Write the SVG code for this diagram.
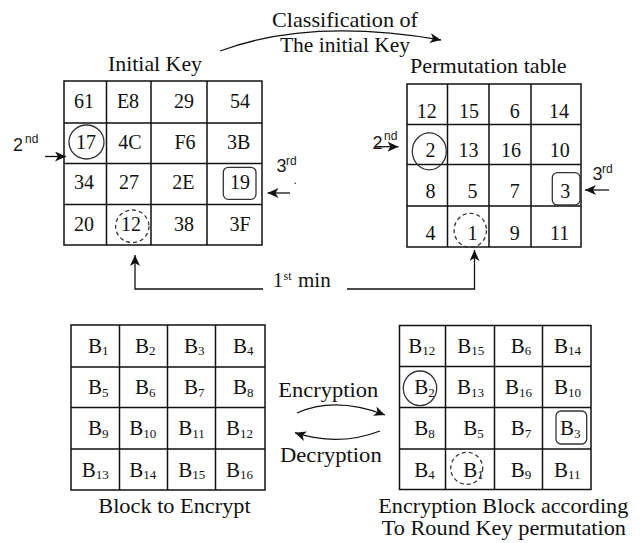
<svg xmlns="http://www.w3.org/2000/svg" width="642" height="543" viewBox="0 0 642 543">
  <style>
    text { font-family: "Liberation Serif", "Times New Roman", serif; fill: #111; }
    .lbl { font-size: 21px; }
    .num { font-size: 20px; text-anchor: middle; }
    .blk { font-size: 21px; }
    .sub { font-size: 13px; }
    .ssup { font-size: 12px; }
    .ord { font-family: "Liberation Sans", Arial, sans-serif; font-size: 18px; fill: #1a1a1a; }
    .sup { font-family: "Liberation Sans", Arial, sans-serif; font-size: 12px; fill: #1a1a1a; }
    .grid { fill: none; stroke: #111; stroke-width: 1.5; }
    .mark { fill: none; stroke: #333; stroke-width: 1.3; }
    .dash { stroke-dasharray: 4 3; }
    .conn { fill: none; stroke: #111; stroke-width: 1.3; marker-end: url(#arrow); }
  </style>
  <defs>
    <marker id="arrow" markerUnits="userSpaceOnUse" markerWidth="11" markerHeight="10" viewBox="0 0 11 10" refX="11" refY="5" orient="auto">
      <path d="M0,0 L11,5 L0,10 L3,5 z" fill="#111"/>
    </marker>
  </defs>
  <rect width="642" height="543" fill="#fff"/>

  <!-- connectors -->
  <g id="connectors">
    <path class="conn" d="M220,51 Q310,17.5 441,40"/>
    <path class="conn" d="M263,289 H135 V255"/>
    <path class="conn" d="M347,289 H474.5 V250"/>
    <path class="conn" d="M45,156.5 H66"/>
    <path class="conn" d="M290,193 H267.5"/>
    <path class="conn" d="M375,146.7 H398.5"/>
    <path class="conn" d="M609,190 H585"/>
    <path class="conn" d="M297,413 Q335,396 385,415"/>
    <path class="conn" d="M380,431 Q338,447 295,432.7"/>
  </g>

  <!-- labels on connectors -->
  <g id="classification-label">
    <text class="lbl" x="272" y="26.5" textLength="146" lengthAdjust="spacingAndGlyphs">Classification of</text>
    <text class="lbl" x="280" y="51.5" textLength="130" lengthAdjust="spacingAndGlyphs">The initial Key</text>
  </g>
  <g id="first-min-label">
    <text class="num" x="278" y="287">1</text>
    <text class="ssup" x="283.5" y="279.5">st</text>
    <text class="lbl" x="298" y="287">min</text>
  </g>
  <g id="ordinal-labels">
    <text class="ord" x="13" y="151">2</text><text class="sup" x="25" y="143">nd</text>
    <text class="ord" x="276.5" y="172">3</text><text class="sup" x="286" y="165">rd</text>
    <text class="sup" x="293.5" y="184">.</text>
    <text class="ord" x="372.5" y="148.5">2</text><text class="sup" x="384" y="140">nd</text>
    <text class="ord" x="592.5" y="180">3</text><text class="sup" x="602" y="173.3">rd</text>
  </g>
  <g id="crypt-labels">
    <text class="lbl" x="278.3" y="396.7" textLength="100" lengthAdjust="spacingAndGlyphs">Encryption</text>
    <text class="lbl" x="280" y="461.7" textLength="101.7" lengthAdjust="spacingAndGlyphs">Decryption</text>
  </g>

  <!-- Initial key table -->
  <g id="initial-key">
    <text class="lbl" x="108" y="70.7" textLength="94" lengthAdjust="spacingAndGlyphs">Initial Key</text>
    <rect class="grid" x="64" y="81" width="198" height="164"/>
    <path class="grid" d="M106.5,81 V245 M151,81 V245 M207,81 V245 M64,123 H262 M64,163.5 H262 M64,204.5 H262"/>
    <text class="num" x="84" y="107.5">61</text>
    <text class="num" x="128" y="107.5">E8</text>
    <text class="num" x="184" y="107.5">29</text>
    <text class="num" x="240" y="107.5">54</text>
    <text class="num" x="86" y="148.5">17</text>
    <text class="num" x="130" y="148.5">4C</text>
    <text class="num" x="185" y="148.5">F6</text>
    <text class="num" x="238.7" y="148.5">3B</text>
    <text class="num" x="84" y="189">34</text>
    <text class="num" x="129" y="189">27</text>
    <text class="num" x="183.3" y="189">2E</text>
    <text class="num" x="240" y="189">19</text>
    <text class="num" x="84" y="230.5">20</text>
    <text class="num" x="131" y="230.5">12</text>
    <text class="num" x="184" y="230.5">38</text>
    <text class="num" x="240" y="230.5">3F</text>
    <ellipse class="mark" cx="86.5" cy="142" rx="17.5" ry="17"/>
    <rect class="mark" x="223.3" y="167.3" width="32.7" height="32" rx="5"/>
    <ellipse class="mark dash" cx="132.3" cy="226.3" rx="16.7" ry="16.3"/>
  </g>

  <!-- Permutation table -->
  <g id="permutation-table">
    <text class="lbl" x="410" y="72.7" textLength="156.7" lengthAdjust="spacingAndGlyphs">Permutation table</text>
    <rect class="grid" x="407" y="84" width="174" height="163"/>
    <path class="grid" d="M447.5,84 V247 M489,84 V247 M531,84 V247 M407,124.5 H581 M407,164.5 H581 M407,206 H581"/>
    <text class="num" x="426.7" y="118.3">12</text>
    <text class="num" x="469" y="118.3">15</text>
    <text class="num" x="514.7" y="118.3">6</text>
    <text class="num" x="559" y="118.3">14</text>
    <text class="num" x="430.5" y="156.5">2</text>
    <text class="num" x="468.5" y="156.5">13</text>
    <text class="num" x="511" y="156.5">16</text>
    <text class="num" x="559.7" y="156.5">10</text>
    <text class="num" x="430.5" y="198">8</text>
    <text class="num" x="472.5" y="198">5</text>
    <text class="num" x="514.7" y="198">7</text>
    <text class="num" x="565.3" y="198">3</text>
    <text class="num" x="430.5" y="240">4</text>
    <text class="num" x="472.5" y="240">1</text>
    <text class="num" x="514.7" y="240">9</text>
    <text class="num" x="559.7" y="240">11</text>
    <ellipse class="mark" cx="429.3" cy="151.3" rx="17" ry="18.5"/>
    <ellipse class="mark dash" cx="470.3" cy="230.3" rx="16.2" ry="17"/>
    <rect class="mark" x="552.3" y="172.7" width="27.7" height="32.3" rx="5"/>
  </g>

  <!-- Plain block -->
  <g id="block-to-encrypt">
    <rect class="grid" x="71" y="325" width="194" height="165"/>
    <path class="grid" d="M119.5,325 V490 M167.5,325 V490 M215.5,325 V490 M71,367 H265 M71,407.5 H265 M71,449 H265"/>
    <text class="blk" x="88" y="352.5">B<tspan class="sub" dy="2.5">1</tspan></text>
    <text class="blk" x="135" y="352.5">B<tspan class="sub" dy="2.5">2</tspan></text>
    <text class="blk" x="184" y="352.5">B<tspan class="sub" dy="2.5">3</tspan></text>
    <text class="blk" x="233" y="352.5">B<tspan class="sub" dy="2.5">4</tspan></text>
    <text class="blk" x="88" y="394">B<tspan class="sub" dy="2.5">5</tspan></text>
    <text class="blk" x="135" y="394">B<tspan class="sub" dy="2.5">6</tspan></text>
    <text class="blk" x="184" y="394">B<tspan class="sub" dy="2.5">7</tspan></text>
    <text class="blk" x="233" y="394">B<tspan class="sub" dy="2.5">8</tspan></text>
    <text class="blk" x="88" y="435">B<tspan class="sub" dy="2.5">9</tspan></text>
    <text class="blk" x="129.3" y="435">B<tspan class="sub" dy="2.5">10</tspan></text>
    <text class="blk" x="178.3" y="435">B<tspan class="sub" dy="2.5">11</tspan></text>
    <text class="blk" x="226" y="435">B<tspan class="sub" dy="2.5">12</tspan></text>
    <text class="blk" x="81.7" y="476.5">B<tspan class="sub" dy="2.5">13</tspan></text>
    <text class="blk" x="129.3" y="476.5">B<tspan class="sub" dy="2.5">14</tspan></text>
    <text class="blk" x="178.3" y="476.5">B<tspan class="sub" dy="2.5">15</tspan></text>
    <text class="blk" x="226" y="476.5">B<tspan class="sub" dy="2.5">16</tspan></text>
    <text class="lbl" x="98.3" y="513.3" textLength="152.4" lengthAdjust="spacingAndGlyphs">Block to Encrypt</text>
  </g>

  <!-- Permuted block -->
  <g id="encryption-block">
    <rect class="grid" x="399.5" y="325.5" width="191.5" height="164"/>
    <path class="grid" d="M445.5,325.5 V489.5 M494.5,325.5 V489.5 M542.5,325.5 V489.5 M399.5,366.5 H591 M399.5,407.5 H591 M399.5,449 H591"/>
    <text class="blk" x="408.3" y="352.5">B<tspan class="sub" dy="2.5">12</tspan></text>
    <text class="blk" x="457.3" y="352.5">B<tspan class="sub" dy="2.5">15</tspan></text>
    <text class="blk" x="510.7" y="352.5">B<tspan class="sub" dy="2.5">6</tspan></text>
    <text class="blk" x="554" y="352.5">B<tspan class="sub" dy="2.5">14</tspan></text>
    <text class="blk" x="414.3" y="394">B<tspan class="sub" dy="2.5">2</tspan></text>
    <text class="blk" x="457" y="394">B<tspan class="sub" dy="2.5">13</tspan></text>
    <text class="blk" x="505" y="394">B<tspan class="sub" dy="2.5">16</tspan></text>
    <text class="blk" x="554" y="394">B<tspan class="sub" dy="2.5">10</tspan></text>
    <text class="blk" x="414.3" y="435">B<tspan class="sub" dy="2.5">8</tspan></text>
    <text class="blk" x="463.3" y="435">B<tspan class="sub" dy="2.5">5</tspan></text>
    <text class="blk" x="510.7" y="435">B<tspan class="sub" dy="2.5">7</tspan></text>
    <text class="blk" x="560" y="435">B<tspan class="sub" dy="2.5">3</tspan></text>
    <text class="blk" x="414.3" y="476.5">B<tspan class="sub" dy="2.5">4</tspan></text>
    <text class="blk" x="463.3" y="476.5">B<tspan class="sub" dy="2.5">1</tspan></text>
    <text class="blk" x="510.7" y="476.5">B<tspan class="sub" dy="2.5">9</tspan></text>
    <text class="blk" x="554" y="476.5">B<tspan class="sub" dy="2.5">11</tspan></text>
    <ellipse class="mark" cx="420" cy="388.3" rx="16.7" ry="17.3"/>
    <ellipse class="mark dash" cx="466.7" cy="468.3" rx="16" ry="16"/>
    <rect class="mark" x="556" y="411" width="30.7" height="33" rx="5"/>
    <text class="lbl" x="378.3" y="512.5" textLength="250" lengthAdjust="spacingAndGlyphs">Encryption Block according</text>
    <text class="lbl" x="381.7" y="535" textLength="244.3" lengthAdjust="spacingAndGlyphs">To Round Key permutation</text>
  </g>
</svg>
